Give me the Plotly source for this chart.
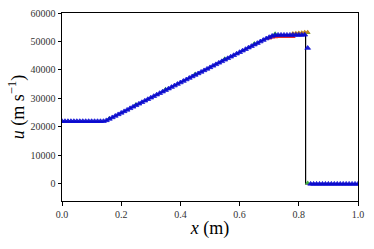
import plotly.graph_objects as go

# exact solution (black line)
x_exact = [0.0, 0.145, 0.714, 0.823, 0.823, 1.0]
u_exact = [22000, 22000, 52300, 52300, 0, 0]

# numerical solution (blue triangles), one value per grid point x = 0.00 ... 1.00
x_num = [i / 100 for i in range(101)]
u_num = [
    22000, 22000, 22000, 22000, 22000, 22000, 22000, 22000, 22000, 22000,
    22000, 22000, 22000, 22000, 22020, 22300, 22800, 23330, 23860, 24400,
    24930, 25460, 25990, 26530, 27060, 27590, 28120, 28660, 29190, 29720,
    30250, 30790, 31320, 31850, 32380, 32920, 33450, 33980, 34510, 35050,
    35580, 36110, 36640, 37180, 37710, 38240, 38770, 39310, 39840, 40370,
    40900, 41440, 41970, 42500, 43030, 43570, 44100, 44630, 45160, 45700,
    46230, 46760, 47290, 47830, 48360, 48890, 49420, 49960, 50490, 51020,
    51500, 51950, 52200, 52300, 52300, 52300, 52300, 52300, 52300, 52300,
    52300, 52300, 52350, 47700, 0, 0, 0, 0, 0, 0,
    0, 0, 0, 0, 0, 0, 0, 0, 0, 0,
    0,
]

# other runs, mostly hidden under the blue markers
x_red = [0.70, 0.71, 0.72, 0.73, 0.74, 0.75, 0.76, 0.77, 0.78]
u_red = [51100, 51500, 51600, 51650, 51700, 51700, 51700, 51700, 51700]
x_orange = [0.78, 0.79, 0.80, 0.81, 0.82, 0.83]
u_orange = [52800, 52900, 53000, 53100, 53200, 53200]
x_green = [0.16, 0.25, 0.35, 0.45, 0.55, 0.65, 0.72, 0.80, 0.81, 0.82, 0.83, 0.83]
u_green = [23000, 27900, 33200, 38600, 43900, 49300, 52700, 52800, 52900, 53000, 53100, 300]

serif = "Liberation Serif"

fig = go.Figure()

fig.add_trace(go.Scatter(x=x_exact, y=u_exact, mode="lines",
                         line=dict(color="black", width=1.2), showlegend=False))
fig.add_trace(go.Scatter(x=x_red, y=u_red, mode="markers",
                         marker=dict(symbol="triangle-up", size=5, color="#e03030", line_width=0),
                         showlegend=False))
fig.add_trace(go.Scatter(x=x_green, y=u_green, mode="markers",
                         marker=dict(symbol="triangle-up", size=5, color="#40b040", line_width=0),
                         showlegend=False))
fig.add_trace(go.Scatter(x=x_orange, y=u_orange, mode="markers",
                         marker=dict(symbol="triangle-up", size=5, color="#c08020", line_width=0),
                         showlegend=False))
fig.add_trace(go.Scatter(x=x_num, y=u_num, mode="markers",
                         marker=dict(symbol="triangle-up", size=5, color="rgba(10,10,210,0.9)",
                                     line=dict(width=0.8, color="rgba(10,10,210,0.9)")),
                         showlegend=False))

tick_font = dict(family=serif, size=10, color="#333")
title_font = dict(family=serif, size=18, color="black")

fig.update_xaxes(range=[0, 1], tickvals=[0, 0.2, 0.4, 0.6, 0.8, 1.0], tickformat=".1f",
                 showline=True, linecolor="black", linewidth=1, mirror=True,
                 ticks="outside", ticklen=3.5, tickcolor="black", showgrid=False,
                 zeroline=False, tickfont=tick_font, automargin=False,
                 title=dict(text="<i>x</i> (m)", standoff=2, font=title_font))
fig.update_yaxes(range=[-6000, 60000], tickvals=[0, 10000, 20000, 30000, 40000, 50000, 60000],
                 tickformat="d",
                 showline=True, linecolor="black", linewidth=1, mirror=True,
                 ticks="outside", ticklen=3.5, tickcolor="black", showgrid=False,
                 zeroline=False, tickfont=tick_font, automargin=False,
                 title=dict(text="<i>u</i> (m s<sup>−1</sup>)", standoff=1, font=title_font))

fig.update_layout(
    width=374, height=249,
    margin=dict(l=62, r=16, t=13, b=48),
    plot_bgcolor="white", paper_bgcolor="white",
)

fig.write_html("out.html", config={"displayModeBar": False},
               post_script="document.body.style.margin='0';")
